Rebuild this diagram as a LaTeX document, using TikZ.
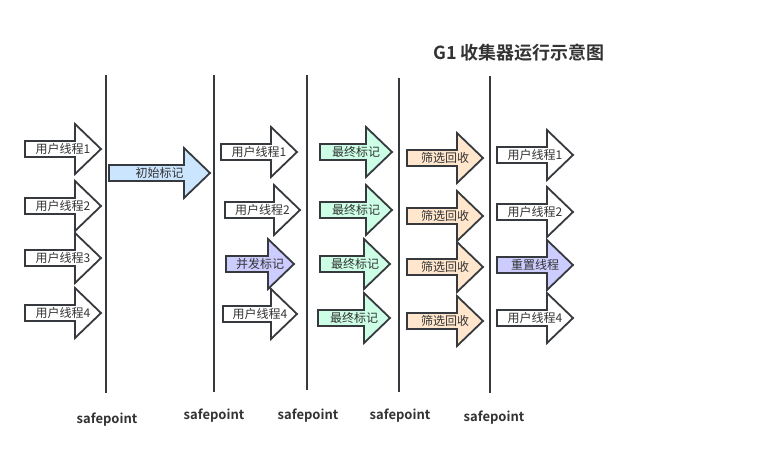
\documentclass[tikz,border=0pt]{standalone}
\usepackage{fontspec}
\setmainfont{Noto Sans CJK SC}
\newfontfamily\cjkbold{Noto Sans CJK SC Bold}
\definecolor{strk}{HTML}{36393D}
\definecolor{txt}{HTML}{333333}
\definecolor{fblue}{HTML}{CCE5FF}
\definecolor{fpurple}{HTML}{CCCCFF}
\definecolor{fgreen}{HTML}{CCFFE6}
\definecolor{forange}{HTML}{FFE6CC}
\tikzset{
  arrowshape/.style={draw=strk, line width=1.8pt, line join=miter},
  arrowtext/.style={font=\fontsize{12}{14}\selectfont, text=txt, inner sep=0pt},
  divider/.style={draw=strk, line width=1.8pt},
  splabel/.style={font=\cjkbold\fontsize{13}{15}\selectfont, text=txt, inner sep=0pt},
  titlelabel/.style={font=\cjkbold\fontsize{18}{20}\selectfont, text=txt, inner sep=0pt}
}
% #1 name, #2 x-left, #3 x-tip, #4 y, #5 fill, #6 text
\newcommand\blockarrow[6]{%
  \path[arrowshape, fill=#5] (#2,{#4-8}) -- ({#3-26},{#4-8}) -- ({#3-26},{#4-25}) -- (#3,#4)
     -- ({#3-26},{#4+25}) -- ({#3-26},{#4+8}) -- (#2,{#4+8}) -- cycle;
  \node[arrowtext] (#1) at ({(#2+#3)/2},#4) {#6};
}
\begin{document}
\begin{tikzpicture}[x=1pt,y=-1pt]
\useasboundingbox (0,0) rectangle (766,461);
% dividers
\coordinate (d1t) at (106,75);  \coordinate (d1b) at (106,393);
\coordinate (d2t) at (214,75);  \coordinate (d2b) at (214,392);
\coordinate (d3t) at (307,75);  \coordinate (d3b) at (307,390);
\coordinate (d4t) at (399,78);  \coordinate (d4b) at (399,392);
\coordinate (d5t) at (490,76);  \coordinate (d5b) at (490,393);
\draw[divider] (d1t) -- (d1b);
\draw[divider] (d2t) -- (d2b);
\draw[divider] (d3t) -- (d3b);
\draw[divider] (d4t) -- (d4b);
\draw[divider] (d5t) -- (d5b);
% column 1
\blockarrow{u11}{25}{101}{149}{white}{用户线程1}
\blockarrow{u12}{25}{101}{206}{white}{用户线程2}
\blockarrow{u13}{25}{101}{258}{white}{用户线程3}
\blockarrow{u14}{25}{101}{313}{white}{用户线程4}
\blockarrow{init}{109}{210}{173}{fblue}{初始标记}
% column 2
\blockarrow{u21}{221}{297}{152}{white}{用户线程1}
\blockarrow{u22}{225}{300}{210}{white}{用户线程2}
\blockarrow{conc}{226}{294}{264}{fpurple}{并发标记}
\blockarrow{u24}{223}{297}{314}{white}{用户线程4}
% column 3
\blockarrow{f1}{320}{392}{152}{fgreen}{最终标记}
\blockarrow{f2}{320}{392}{210}{fgreen}{最终标记}
\blockarrow{f3}{320}{390}{264}{fgreen}{最终标记}
\blockarrow{f4}{318}{390}{318}{fgreen}{最终标记}
% column 4
\blockarrow{s1}{407}{483}{158}{forange}{筛选回收}
\blockarrow{s2}{407}{483}{216}{forange}{筛选回收}
\blockarrow{s3}{407}{483}{267}{forange}{筛选回收}
\blockarrow{s4}{407}{483}{321}{forange}{筛选回收}
% column 5
\blockarrow{u51}{497}{573}{155}{white}{用户线程1}
\blockarrow{u52}{497}{573}{212}{white}{用户线程2}
\blockarrow{reset}{497}{573}{265}{fpurple}{重置线程}
\blockarrow{u54}{497}{573}{318}{white}{用户线程4}
% safepoint labels
\node[splabel] (sp1) at (107,420) {safepoint};
\node[splabel] (sp2) at (214,416) {safepoint};
\node[splabel] (sp3) at (308,416) {safepoint};
\node[splabel] (sp4) at (400,416) {safepoint};
\node[splabel] (sp5) at (494,418) {safepoint};
% title
\node[titlelabel] (title) at (519,53) {G1 收集器运行示意图};
\end{tikzpicture}
\end{document}
